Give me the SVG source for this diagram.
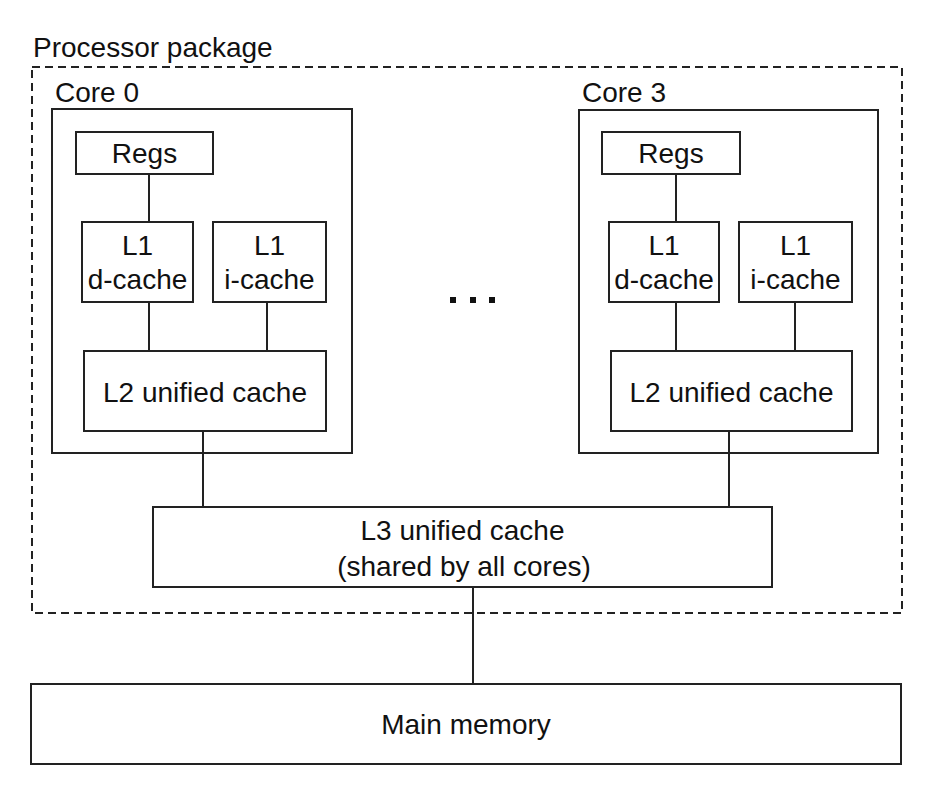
<svg xmlns="http://www.w3.org/2000/svg" width="931" height="796" viewBox="0 0 931 796">
<style>
.box{fill:#fff;stroke:#222;stroke-width:2}
.frame{fill:none;stroke:#222;stroke-width:2}
.pkg{fill:none;stroke:#222;stroke-width:2;stroke-dasharray:8 5}
.ln{stroke:#222;stroke-width:2;fill:none}
text{font-family:"Liberation Sans",Arial,sans-serif;font-size:28px;fill:#111}
.c{text-anchor:middle}
</style>
<rect width="931" height="796" fill="#fff"/>
<g id="package">
<rect class="pkg" x="32" y="67" width="870" height="546"/>
<text x="33" y="57">Processor package</text>
</g>
<g id="connectors">
<line class="ln" x1="149" y1="174" x2="149" y2="222"/>
<line class="ln" x1="149" y1="302" x2="149" y2="351"/>
<line class="ln" x1="267" y1="302" x2="267" y2="351"/>
<line class="ln" x1="203" y1="431" x2="203" y2="507"/>
<line class="ln" x1="676" y1="174" x2="676" y2="222"/>
<line class="ln" x1="676" y1="302" x2="676" y2="351"/>
<line class="ln" x1="795" y1="302" x2="795" y2="351"/>
<line class="ln" x1="729" y1="431" x2="729" y2="507"/>
<line class="ln" x1="473" y1="587" x2="473" y2="684"/>
</g>
<g id="core0">
<rect class="frame" x="52" y="109" width="300" height="344"/>
<text x="55" y="102">Core 0</text>
</g>
<g id="core3">
<rect class="frame" x="579" y="110" width="299" height="343"/>
<text x="582" y="102">Core 3</text>
</g>
<g id="regs0">
<rect class="box" x="76" y="132" width="137" height="42"/>
<text class="c" x="144.5" y="163">Regs</text>
</g>
<g id="l1d0">
<rect class="box" x="82" y="222" width="111" height="80"/>
<text class="c" x="137.5" y="255">L1</text>
<text class="c" x="137.5" y="289">d-cache</text>
</g>
<g id="l1i0">
<rect class="box" x="213" y="222" width="113" height="80"/>
<text class="c" x="269.5" y="255">L1</text>
<text class="c" x="269.5" y="289">i-cache</text>
</g>
<g id="l2_0">
<rect class="box" x="84" y="351" width="242" height="80"/>
<text class="c" x="205" y="402">L2 unified cache</text>
</g>
<g id="regs3">
<rect class="box" x="602" y="132" width="138" height="42"/>
<text class="c" x="671" y="163">Regs</text>
</g>
<g id="l1d3">
<rect class="box" x="609" y="222" width="110" height="80"/>
<text class="c" x="664" y="255">L1</text>
<text class="c" x="664" y="289">d-cache</text>
</g>
<g id="l1i3">
<rect class="box" x="739" y="222" width="113" height="80"/>
<text class="c" x="795.5" y="255">L1</text>
<text class="c" x="795.5" y="289">i-cache</text>
</g>
<g id="l2_3">
<rect class="box" x="611" y="351" width="241" height="80"/>
<text class="c" x="731.5" y="402">L2 unified cache</text>
</g>
<g id="ellipsis">
<rect x="450" y="297" width="6" height="6" fill="#111"/>
<rect x="470" y="297" width="6" height="6" fill="#111"/>
<rect x="489" y="297" width="6" height="6" fill="#111"/>
</g>
<g id="l3">
<rect class="box" x="153" y="507" width="619" height="80"/>
<text class="c" x="462.5" y="540">L3 unified cache</text>
<text class="c" x="464" y="576">(shared by all cores)</text>
</g>
<g id="mainmem">
<rect class="box" x="31" y="684" width="870" height="80"/>
<text class="c" x="466" y="734">Main memory</text>
</g>
</svg>
